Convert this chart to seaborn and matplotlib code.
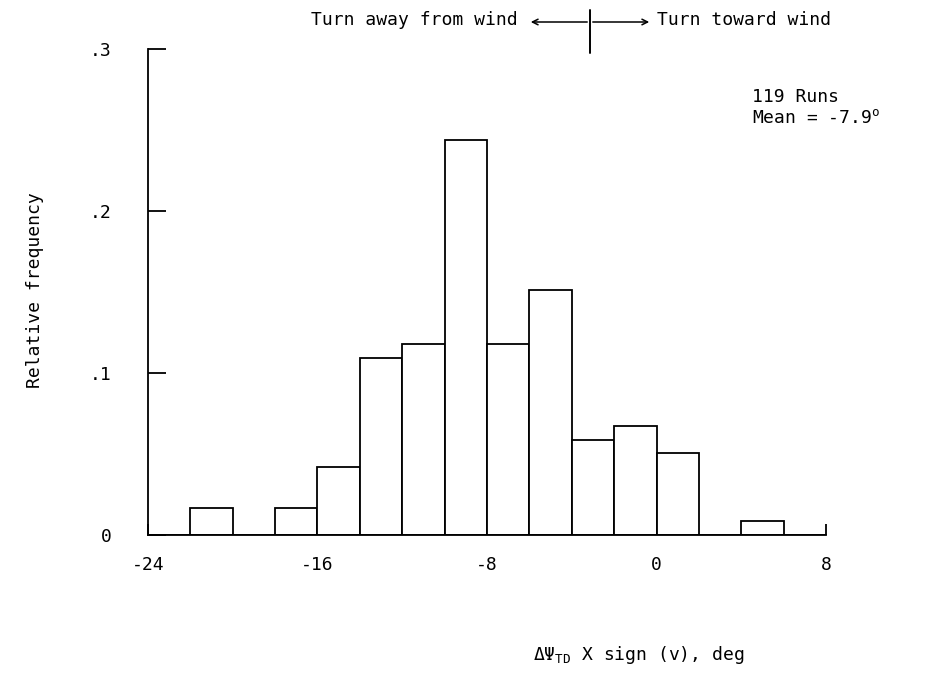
import numpy as np
import matplotlib
matplotlib.use("Agg")
import matplotlib.pyplot as plt
from matplotlib.lines import Line2D
import seaborn as sns

# histogram of heading change at touchdown, 2-deg bins
bin_edges = [-24, -22, -20, -18, -16, -14, -12, -10, -8, -6, -4, -2, 0, 2, 4, 6, 8]
run_counts = [0, 2, 0, 2, 5, 13, 14, 29, 14, 18, 7, 8, 6, 0, 1, 0]
n_runs = 119
x_ticks = [-24, -16, -8, 0, 8]
x_tick_labels = ["-24", "-16", "-8", "0", "8"]
y_ticks = [0, 0.1, 0.2, 0.3]
y_tick_labels = ["0", ".1", ".2", ".3"]

sns.set_style("ticks")
plt.rcParams["font.family"] = ["DejaVu Sans Mono", "DejaVu Sans"]
plt.rcParams["mathtext.fontset"] = "custom"
plt.rcParams["mathtext.rm"] = "DejaVu Sans Mono"
plt.rcParams["mathtext.it"] = "DejaVu Sans Mono"
for key in ["text.color", "axes.labelcolor", "xtick.color", "ytick.color",
            "axes.edgecolor"]:
    plt.rcParams[key] = "black"
FS = 13

centers = [(a + b) / 2 for a, b in zip(bin_edges[:-1], bin_edges[1:])]
rel_freq = np.array(run_counts) / n_runs

fig = plt.figure(figsize=(9.45, 6.73), dpi=100)
ax = fig.add_axes([0.1566, 0.2051, 0.7175, 0.7221])

sns.histplot(x=centers, weights=rel_freq, bins=bin_edges, stat="count",
             color="white", edgecolor="black", linewidth=1.3, alpha=1, ax=ax)

ax.set_xlim(-24, 8)
ax.set_ylim(0, 0.3)
ax.set_xticks(x_ticks)
ax.set_xticklabels(x_tick_labels, fontsize=FS)
ax.set_yticks(y_ticks)
ax.set_yticklabels(y_tick_labels, fontsize=FS)
ax.tick_params(axis="y", direction="in", length=13, width=1.3, pad=26)
ax.tick_params(axis="x", direction="in", length=8, width=1.3, pad=15)
ax.set_xlabel("")
ax.set_ylabel("")
for side in ["top", "right"]:
    ax.spines[side].set_visible(False)
for side in ["left", "bottom"]:
    ax.spines[side].set_linewidth(1.3)

# labels
fig.text(0.037, 0.569, "Relative frequency", rotation=90, ha="center",
         va="center", fontsize=FS)
fig.text(0.564, 0.027, r"ΔΨ$_{\mathrm{TD}}$ X sign (v), deg", ha="left",
         va="center", fontsize=FS)

# direction key at the top
fig.text(0.548, 0.970, "Turn away from wind", ha="right", va="center", fontsize=FS)
fig.text(0.695, 0.970, "Turn toward wind", ha="left", va="center", fontsize=FS)
cx, cy = 590 / 945, 1 - 22 / 673
for end in [528 / 945, 652 / 945]:
    ax.annotate("", xy=(end, cy), xytext=(cx, cy), xycoords="figure fraction",
                textcoords="figure fraction", annotation_clip=False,
                arrowprops=dict(arrowstyle="->", color="black", lw=1.1))
fig.add_artist(Line2D([cx, cx], [1 - 10 / 673, 1 - 53 / 673],
                      transform=fig.transFigure, color="black", lw=1.4))

fig.text(0.796, 0.856, f"{n_runs} Runs", ha="left", va="center", fontsize=FS)
fig.text(0.796, 0.825, r"Mean = -7.9$^{\mathrm{o}}$", ha="left", va="center",
         fontsize=FS)

fig.savefig("out.png", dpi=100, facecolor="white")
